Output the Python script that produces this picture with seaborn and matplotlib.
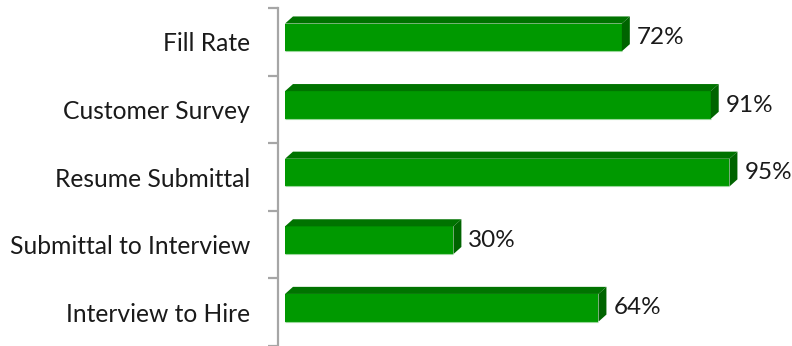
import matplotlib
matplotlib.use("Agg")
import numpy as np
import pandas as pd
import matplotlib.pyplot as plt
import seaborn as sns
from matplotlib.patches import Polygon

# data
categories = ["Fill Rate", "Customer Survey", "Resume Submittal",
              "Submittal to Interview", "Interview to Hire"]
bar_lengths = [72, 91, 95, 36, 67]          # lengths of the bars as drawn
value_labels = ["72%", "91%", "95%", "30%", "64%"]

# colours of the 3D bar faces
front_color = "#009900"
top_color = "#007300"
side_color = "#006400"

sns.set_theme(style="white")
plt.rcParams['font.family'] = ['Lato', 'DejaVu Sans']

df = pd.DataFrame({"metric": categories, "pct": bar_lengths})

fig = plt.figure(figsize=(7.92, 3.46), dpi=100)
ax = fig.add_axes([278 / 792, 0, (780 - 278) / 792, 338 / 346])

sns.barplot(data=df, x="pct", y="metric", color=front_color, saturation=1,
            width=0.41, ax=ax, edgecolor="none", linewidth=0)

ax.set_xlim(-1.5, 105.8)
ax.set_ylim(4.5, -0.5)

# depth of the fake 3D extrusion (data units)
dx, dy = 1.7, 0.105

for p, lab in zip(ax.patches, value_labels):
    p.set_y(p.get_y() - 0.065)
    x0, y0 = p.get_x(), p.get_y()
    w, h = p.get_width(), p.get_height()
    top = Polygon([(x0, y0), (x0 + w, y0), (x0 + w + dx, y0 - dy), (x0 + dx, y0 - dy)],
                  closed=True, facecolor=top_color, edgecolor="none")
    side = Polygon([(x0 + w, y0), (x0 + w + dx, y0 - dy),
                    (x0 + w + dx, y0 + h - dy), (x0 + w, y0 + h)],
                   closed=True, facecolor=side_color, edgecolor="none")
    ax.add_patch(top)
    ax.add_patch(side)
    # faint highlight along the bottom edge of the front face
    ax.hlines(y0 + h, x0, x0 + w, color="#9ad89a", linewidth=0.8)
    ax.text(x0 + w + dx + 1.5, y0 + h / 2, lab, va="center", ha="left",
            fontsize=17.5, color="#1a1a1a")

# axis styling
for s in ["top", "right", "bottom"]:
    ax.spines[s].set_visible(False)
ax.spines["left"].set_color("#a6a6a6")
ax.spines["left"].set_linewidth(1.6)
ax.set_xticks([])
ax.set_xlabel("")
ax.set_ylabel("")
ax.set_yticks(np.arange(-0.5, 5, 1), minor=True)
ax.tick_params(axis="y", which="major", length=0, pad=20, labelsize=17.7,
               labelcolor="#1a1a1a")
ax.tick_params(axis="y", which="minor", left=True, length=7, width=1.6,
               color="#a6a6a6")

fig.savefig("out.png", dpi=100)
